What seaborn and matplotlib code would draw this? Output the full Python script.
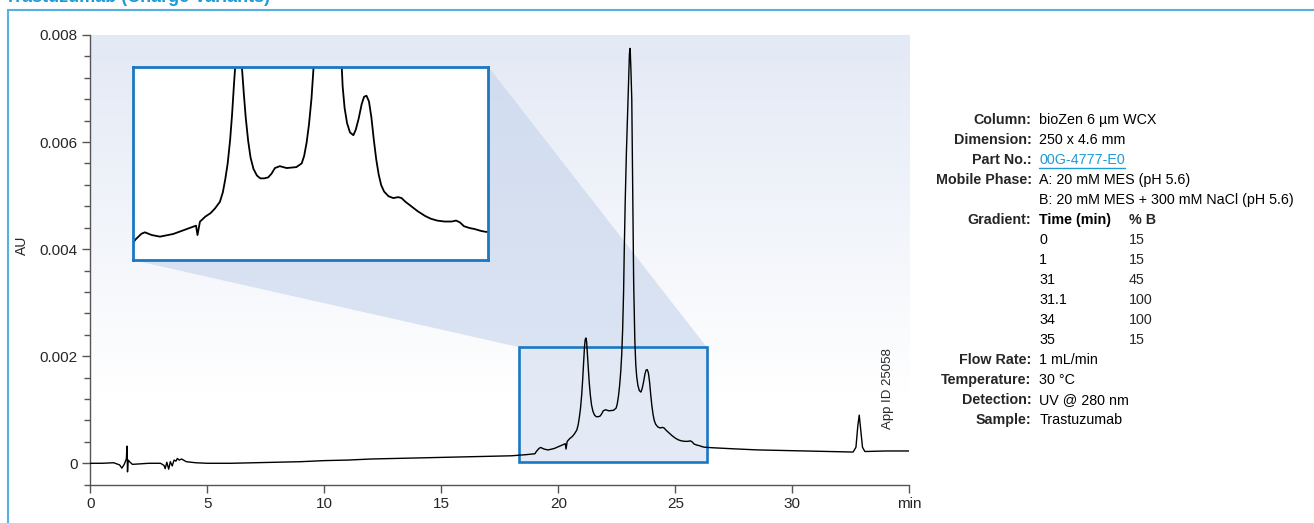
import numpy as np
import matplotlib
matplotlib.use("Agg")
import matplotlib.pyplot as plt
import seaborn as sns
from matplotlib.patches import Rectangle, Polygon
from matplotlib.lines import Line2D
from matplotlib.ticker import MultipleLocator
from matplotlib.colors import LinearSegmentedColormap
from matplotlib import font_manager

# chromatogram trace (time in min, absorbance in AU)
time_min = [
    0.0, 0.5, 1.0, 1.25, 1.35, 1.45, 1.54, 1.57, 1.59, 1.62, 1.7, 1.8, 2.5,
    3.0, 3.15, 3.2, 3.27, 3.35, 3.42, 3.5, 3.58, 3.66, 3.72, 3.8, 3.9, 4.1, 4.5,
    5.0, 6.0, 7.0, 8.0, 9.0, 10.0, 11.0, 12.0, 13.0, 14.0, 15.0, 16.0, 17.0,
    18.0, 18.6, 19.0, 19.06, 19.12, 19.18, 19.25, 19.32, 19.39, 19.56, 19.83,
    20.11, 20.30, 20.33, 20.38, 20.49, 20.60, 20.69, 20.79, 20.85, 20.90, 20.95,
    21.00, 21.04, 21.08, 21.12, 21.15, 21.18, 21.21, 21.24, 21.28, 21.32, 21.37,
    21.42, 21.48, 21.55, 21.62, 21.70, 21.78, 21.85, 21.92, 22.02, 22.16, 22.36,
    22.47, 22.52, 22.57, 22.62, 22.67, 22.71, 22.75, 22.79, 22.82, 22.86, 22.91,
    22.96, 23.00, 23.04, 23.07, 23.10, 23.14, 23.18, 23.22, 23.27, 23.31, 23.35,
    23.40, 23.46, 23.53, 23.58, 23.64, 23.70, 23.75, 23.80, 23.85, 23.90, 23.95,
    24.00, 24.05, 24.10, 24.16, 24.25, 24.35, 24.45, 24.52, 24.60, 24.70, 24.85,
    25.00, 25.12, 25.25, 25.40, 25.55, 25.64, 25.72, 25.80, 25.92, 26.02, 26.15,
    26.25, 26.6, 27.5, 28.5, 29.5, 30.3, 31.5, 32.6, 32.72, 32.8, 32.86, 32.92,
    33.0, 33.1, 34.0, 35.0,
]
absorb_au = [
    0.0, 0.0, 0.00001, -0.00003, -0.00009, -0.00002, 0.00008, 0.00032, -0.00016,
    0.00006, 0.00002, -0.00002, 0.0,
    0.0, -0.00004, -0.0001, 0.00002, -0.00011, 0.00003, -0.00005, 0.00006,
    0.00004, 0.00009, 0.00006, 0.00008, 0.00003, 0.00001,
    0.0, 0.0, 0.00001, 0.00002, 0.00003, 0.00005, 0.00006, 0.00008, 0.00009,
    0.0001, 0.00011, 0.00012, 0.00013,
    0.00014, 0.00016, 0.000178, 0.00022, 0.00025, 0.00028, 0.000295, 0.00028,
    0.000266, 0.000249, 0.000277,
    0.00033, 0.000366, 0.000266, 0.000408, 0.000462, 0.0005, 0.00055, 0.00062,
    0.00072, 0.00086, 0.00103,
    0.00128, 0.00155, 0.00188, 0.00218, 0.00231, 0.00234, 0.00227, 0.00207,
    0.00178, 0.00152, 0.00127,
    0.00109, 0.00097, 0.0009, 0.00087, 0.00087, 0.00088, 0.00092, 0.00098,
    0.001, 0.00098, 0.00099,
    0.00103, 0.00111, 0.00125, 0.00145, 0.00172, 0.00203, 0.0025, 0.0032,
    0.004, 0.0049, 0.0058,
    0.0065, 0.0071, 0.00765, 0.00775, 0.0074, 0.0068, 0.005, 0.0034, 0.0023,
    0.00185, 0.00162,
    0.00146, 0.00136, 0.00133, 0.00139, 0.00151, 0.00166, 0.00174, 0.00175,
    0.00169, 0.00152, 0.00128,
    0.00107, 0.00091, 0.0008, 0.00073, 0.00068, 0.00066, 0.00067, 0.00066,
    0.00062, 0.00058, 0.00052,
    0.00047, 0.00044, 0.00042, 0.00041, 0.00041, 0.00042, 0.0004, 0.00036,
    0.00034, 0.00033, 0.00031,
    0.0003, 0.00029, 0.00027, 0.00025, 0.00024, 0.00023, 0.00022, 0.00021,
    0.0003, 0.0007, 0.0009, 0.00065,
    0.0003, 0.00022, 0.00023, 0.00023,
]

x_ticks = [0, 5, 10, 15, 20, 25, 30, 35]
x_tick_labels = ["0", "5", "10", "15", "20", "25", "30", "min"]
y_ticks = [0, 0.002, 0.004, 0.006, 0.008]
y_tick_labels = ["0", "0.002", "0.004", "0.006", "0.008"]

# zoomed region marked on the main chart, and the range shown in the inset
zoom_x = [18.32, 26.34]
zoom_y = [0.00003, 0.00217]
inset_x = [19.0, 26.3]
inset_y = [0.0, 0.00206]

# conditions panel
cond_labels = ["Column:", "Dimension:", "Part No.:", "Mobile Phase:", "",
               "Gradient:", "", "", "", "", "", "",
               "Flow Rate:", "Temperature:", "Detection:", "Sample:"]
cond_values = ["bioZen 6 µm WCX", "250 x 4.6 mm", "00G-4777-E0",
               "A: 20 mM MES (pH 5.6)", "B: 20 mM MES + 300 mM NaCl (pH 5.6)",
               "Time (min)", "0", "1", "31", "31.1", "34", "35",
               "1 mL/min", "30 °C", "UV @ 280 nm", "Trastuzumab"]
gradient_b = ["% B", "15", "15", "45", "100", "100", "15"]

title_text = "Trastuzumab (Charge Variants)"

sns.set_style("ticks")
plt.rcParams["font.family"] = ["Liberation Sans", "DejaVu Sans"]

names = {f.name for f in font_manager.fontManager.ttflist}
if "Liberation Sans Narrow" in names:
    panel_font, panel_size = ["Liberation Sans Narrow", "DejaVu Sans"], 12
else:
    panel_font, panel_size = ["Liberation Sans", "DejaVu Sans"], 10.3

W, H = 1314, 523
fig = plt.figure(figsize=(W / 100, H / 100), dpi=100)

def fx(px):
    return px / W

def fy(py):
    return 1 - py / H

ax = fig.add_axes([fx(90.3), fy(484.7), fx(909.3) - fx(90.3), fy(35) - fy(484.7)])

# pale blue background fading to white near the bottom
bg = LinearSegmentedColormap.from_list("bg", [(0, "white"), (0.2, "white"), (1, "#e3e9f5")])
ax.imshow(np.linspace(0, 1, 256).reshape(-1, 1), cmap=bg, origin="lower",
          extent=[0, 1, 0, 1], transform=ax.transAxes, aspect="auto", zorder=0)

sns.lineplot(x=time_min, y=absorb_au, ax=ax, color="black", lw=1.0,
             estimator=None, sort=False, zorder=3)

ax.set_xlim(0, 35)
ax.set_ylim(-0.0004, 0.008)
ax.set_xlabel("")
ax.set_ylabel("")
ax.set_xticks(x_ticks, x_tick_labels)
ax.set_yticks(y_ticks, y_tick_labels)
ax.yaxis.set_minor_locator(MultipleLocator(0.0004))
ax.tick_params(axis="both", which="major", direction="out", length=6, width=1,
               color="#555555", labelsize=11, pad=3)
ax.tick_params(axis="y", which="minor", direction="out", length=4, width=1,
               color="#555555")
sns.despine(ax=ax)
for s in ["left", "bottom"]:
    ax.spines[s].set_color("#555555")
    ax.spines[s].set_linewidth(1)

blue = "#1a78c2"
ax.add_patch(Rectangle((zoom_x[0], zoom_y[0]), zoom_x[1] - zoom_x[0], zoom_y[1] - zoom_y[0],
                       facecolor=(0.80, 0.85, 0.93, 0.55), edgecolor=blue, lw=1.9, zorder=2))

# inset
ins_pos = [fx(132.7), fy(260), fx(488.3) - fx(132.7), fy(66.7) - fy(260)]

# shaded cone from inset to the zoom box
to_fig = fig.transFigure.inverted()
tl = to_fig.transform(ax.transData.transform((zoom_x[0], zoom_y[1])))
tr = to_fig.transform(ax.transData.transform((zoom_x[1], zoom_y[1])))
cone = [(ins_pos[0], ins_pos[1]), tuple(tl), tuple(tr),
        (ins_pos[0] + ins_pos[2], ins_pos[1] + ins_pos[3]),
        (ins_pos[0] + ins_pos[2], ins_pos[1])]
ax.add_patch(Polygon(cone, closed=True, transform=fig.transFigure, facecolor="#c0d0ea",
                     alpha=0.55, edgecolor="none", zorder=1, clip_on=False))

axins = fig.add_axes(ins_pos)
axins.set_facecolor("white")
sns.lineplot(x=time_min, y=absorb_au, ax=axins, color="black", lw=1.3,
             estimator=None, sort=False)
axins.set_xlim(*inset_x)
axins.set_ylim(*inset_y)
axins.set_xticks([])
axins.set_yticks([])
axins.set_xlabel("")
axins.set_ylabel("")
for s in axins.spines.values():
    s.set_visible(True)
    s.set_color(blue)
    s.set_linewidth(2.0)

# texts
fig.text(fx(22), fy(245), "AU", rotation=90, ha="center", va="center", fontsize=10)
fig.text(fx(888), fy(389), "App ID 25058", rotation=90, ha="center", va="center", fontsize=9.5)
# header sits mostly above the top edge, as in the source page
fig.text(fx(5), fy(1.5), title_text, ha="left", va="baseline", fontsize=13,
         fontweight="bold", color="#1e9ad6")

part_txt = None
for i, (lab, val) in enumerate(zip(cond_labels, cond_values)):
    y = fy(120 + 20 * i)
    if lab:
        fig.text(fx(1031.5), y, lab, ha="right", va="center", family=panel_font,
                 fontsize=panel_size, fontweight="bold")
    bold = val == "Time (min)"
    col = "#1e9ad6" if val == "00G-4777-E0" else "black"
    t = fig.text(fx(1039.3), y, val, ha="left", va="center", family=panel_font,
                 fontsize=panel_size, fontweight="bold" if bold else "normal", color=col)
    if val == "00G-4777-E0":
        part_txt = t
for j, b in enumerate(gradient_b):
    fig.text(fx(1129), fy(220 + 20 * j), b, ha="left", va="center", family=panel_font,
             fontsize=panel_size, fontweight="bold" if j == 0 else "normal")

# underline the part number
fig.canvas.draw()
bb = part_txt.get_window_extent()
fig.add_artist(Line2D([bb.x0 / W, bb.x1 / W], [(bb.y0 - 1) / H] * 2, color="#1e9ad6", lw=1))

# frame lines
frame_col = "#55b2e0"
fig.add_artist(Line2D([fx(8), fx(8)], [0, fy(10)], color=frame_col, lw=1.5))
fig.add_artist(Line2D([fx(8), 1], [fy(10), fy(10)], color=frame_col, lw=1.5))

fig.savefig("out.png", dpi=100)
